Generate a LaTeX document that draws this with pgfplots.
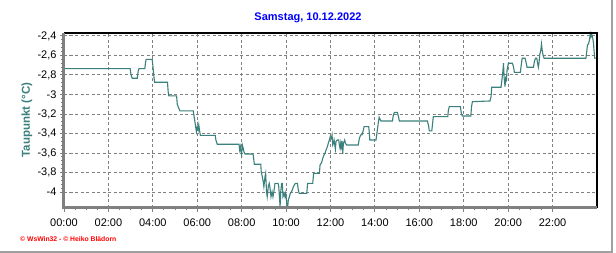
\documentclass[border=0pt]{standalone}
\usepackage{fontspec}
\setmainfont{Liberation Sans}
\usepackage{pgfplots}
\pgfplotsset{compat=1.18}
\definecolor{teal1}{RGB}{58,128,124}
\definecolor{gridgray}{RGB}{128,128,128}
\definecolor{framegray}{RGB}{160,160,160}
\begin{document}
\begin{tikzpicture}[x=1pt,y=1pt]
\useasboundingbox (0,0) rectangle (616,253);
\fill[white] (0,0) rectangle (616,253);
\begin{axis}[
  at={(64pt,45pt)}, anchor=south west,
  scale only axis, width=533pt, height=175pt,
  xmin=0, xmax=24, ymin=-4.164, ymax=-2.37,
  clip=false,
  xtick={0,2,...,22},
  xticklabels={00:00,02:00,04:00,06:00,08:00,10:00,12:00,14:00,16:00,18:00,20:00,22:00},
  minor x tick num=3,
  ytick={-4,-3.8,-3.6,-3.4,-3.2,-3,-2.8,-2.6,-2.4},
  yticklabels={{-4},{-3,8},{-3,6},{-3,4},{-3,2},{-3},{-2,8},{-2,6},{-2,4}},
  minor y tick num=4,
  xtick pos=bottom, ytick pos=left,
  tick align=outside,
  major tick length=4pt, minor tick length=2.5pt,
  tick style={gridgray, line width=0.9pt},
  grid=major,
  major grid style={gridgray, dash pattern=on 3.3pt off 2.2pt, line width=0.9pt},
  axis line style={draw=none},
  ticklabel style={font=\fontsize{11}{13}\selectfont, text=black},
  xticklabel style={yshift=-3pt},
]
\addplot[teal1, line width=1.1pt, mark=none] coordinates {
(0,-2.735) (2.98,-2.735) (3.02,-2.80) (3.07,-2.834) (3.30,-2.834) (3.34,-2.76) (3.38,-2.735) (3.64,-2.735) (3.67,-2.674) (3.70,-2.64) (3.97,-2.64) (4.00,-2.70) (4.05,-2.82) (4.08,-2.875) (4.66,-2.875) (4.69,-2.97) (4.72,-3.015) (5.07,-3.015) (5.10,-3.10) (5.17,-3.142) (5.22,-3.169) (5.82,-3.169) (5.87,-3.244) (5.91,-3.303) (5.96,-3.381) (6.00,-3.330) (6.04,-3.364) (6.07,-3.313) (6.10,-3.364) (6.14,-3.419) (6.81,-3.419) (6.84,-3.467) (6.90,-3.511) (7.88,-3.511) (7.91,-3.569) (7.94,-3.535) (7.97,-3.586) (8.00,-3.620) (8.03,-3.518) (8.07,-3.552) (8.10,-3.586) (8.15,-3.610) (8.48,-3.610) (8.52,-3.620) (8.57,-3.716) (8.86,-3.716) (8.88,-3.791) (8.93,-3.843) (8.97,-3.894) (9.00,-3.945) (9.05,-3.843) (9.08,-3.809) (9.12,-3.997) (9.15,-4.048) (9.20,-3.945) (9.24,-3.911)
(9.27,-3.945) (9.32,-4.048) (9.37,-3.997) (9.41,-4.048) (9.45,-3.997) (9.50,-3.911) (9.64,-3.911) (9.67,-3.945) (9.70,-4.048) (9.73,-4.150) (9.76,-3.997) (9.80,-3.911) (9.83,-3.911) (9.86,-4.048) (9.91,-4.014) (9.95,-4.048) (9.98,-4.014) (10.01,-4.065) (10.04,-4.150) (10.07,-4.16) (10.10,-4.082) (10.15,-4.048) (10.19,-4.014) (10.24,-3.997) (10.28,-3.979) (10.33,-3.945) (10.37,-3.928) (10.42,-3.911) (10.51,-3.911) (10.55,-3.979) (10.59,-4.014) (10.93,-4.014) (10.97,-3.911) (11.20,-3.911) (11.24,-3.809) (11.50,-3.809) (11.53,-3.723) (11.60,-3.699) (11.65,-3.655) (11.71,-3.620) (11.75,-3.603) (11.80,-3.569) (11.86,-3.535) (11.90,-3.501) (11.95,-3.467) (11.99,-3.432) (12.04,-3.450) (12.07,-3.415) (12.10,-3.518) (12.13,-3.501) (12.16,-3.467) (12.22,-3.562) (12.25,-3.477) (12.31,-3.467) (12.37,-3.467) (12.40,-3.518) (12.43,-3.552) (12.46,-3.501) (12.49,-3.562) (12.52,-3.477) (12.55,-3.610) (12.58,-3.501) (12.64,-3.467) (12.67,-3.501) (12.73,-3.518) (13.25,-3.518) (13.30,-3.450) (13.36,-3.415) (13.42,-3.415) (13.48,-3.364) (13.51,-3.330) (13.72,-3.330) (13.75,-3.398) (13.77,-3.467) (14.05,-3.467) (14.08,-3.415) (14.11,-3.364) (14.15,-3.296) (14.19,-3.234)
(14.21,-3.244) (14.27,-3.272) (14.79,-3.272) (14.83,-3.210) (14.88,-3.183) (15.01,-3.183) (15.06,-3.227) (15.10,-3.272) (16.36,-3.272) (16.41,-3.313) (16.45,-3.374) (16.56,-3.374) (16.59,-3.313) (16.63,-3.227) (17.28,-3.227) (17.31,-3.159) (17.35,-3.125) (17.85,-3.125) (17.89,-3.193) (17.94,-3.221) (18.32,-3.221) (18.35,-3.125) (18.39,-3.074)
(19.18,-3.067) (19.23,-3.022) (19.26,-2.926) (19.68,-2.926) (19.71,-2.868) (19.76,-2.766) (19.79,-2.680) (19.82,-2.834) (19.86,-2.920) (19.89,-2.817) (19.92,-2.868) (19.95,-2.749) (19.98,-2.715) (20.01,-2.680) (20.19,-2.680) (20.24,-2.715) (20.28,-2.773) (20.55,-2.773) (20.58,-2.715) (20.63,-2.629) (20.76,-2.629) (20.81,-2.674) (20.85,-2.721) (21.14,-2.721) (21.18,-2.663) (21.23,-2.629) (21.29,-2.629) (21.32,-2.674) (21.36,-2.721) (21.39,-2.674) (21.42,-2.595) (21.47,-2.544) (21.50,-2.482) (21.53,-2.544) (21.57,-2.595) (21.62,-2.629) (23.50,-2.629) (23.53,-2.578) (23.57,-2.492) (23.62,-2.482) (23.66,-2.441) (23.70,-2.379) (23.73,-2.407) (23.76,-2.379) (23.81,-2.424) (23.84,-2.468) (23.87,-2.561) (23.90,-2.629) (23.94,-2.629)
};
\draw[black, line width=1.5pt] (rel axis cs:0,1) -- (rel axis cs:1,1) -- (rel axis cs:1,0);
\draw[gridgray, line width=3pt] (rel axis cs:0,1) -- (rel axis cs:0,0) -- (rel axis cs:1,0);
\end{axis}
\node[text=blue, font=\fontsize{11}{13}\selectfont\bfseries] at (308,235) {Samstag, 10.12.2022};
\node[text=teal1, font=\fontsize{11.5}{13}\selectfont\bfseries, rotate=90] at (27,133) {Taupunkt (°C)};
\node[anchor=west, text=red, font=\fontsize{6.8}{8}\selectfont\bfseries, inner sep=0pt] at (20,14) {© WsWin32 - © Heiko Blädorn};
\draw[framegray, line width=2pt] (612,253) -- (612,1.3) -- (0,1.3);
\end{tikzpicture}
\end{document}
